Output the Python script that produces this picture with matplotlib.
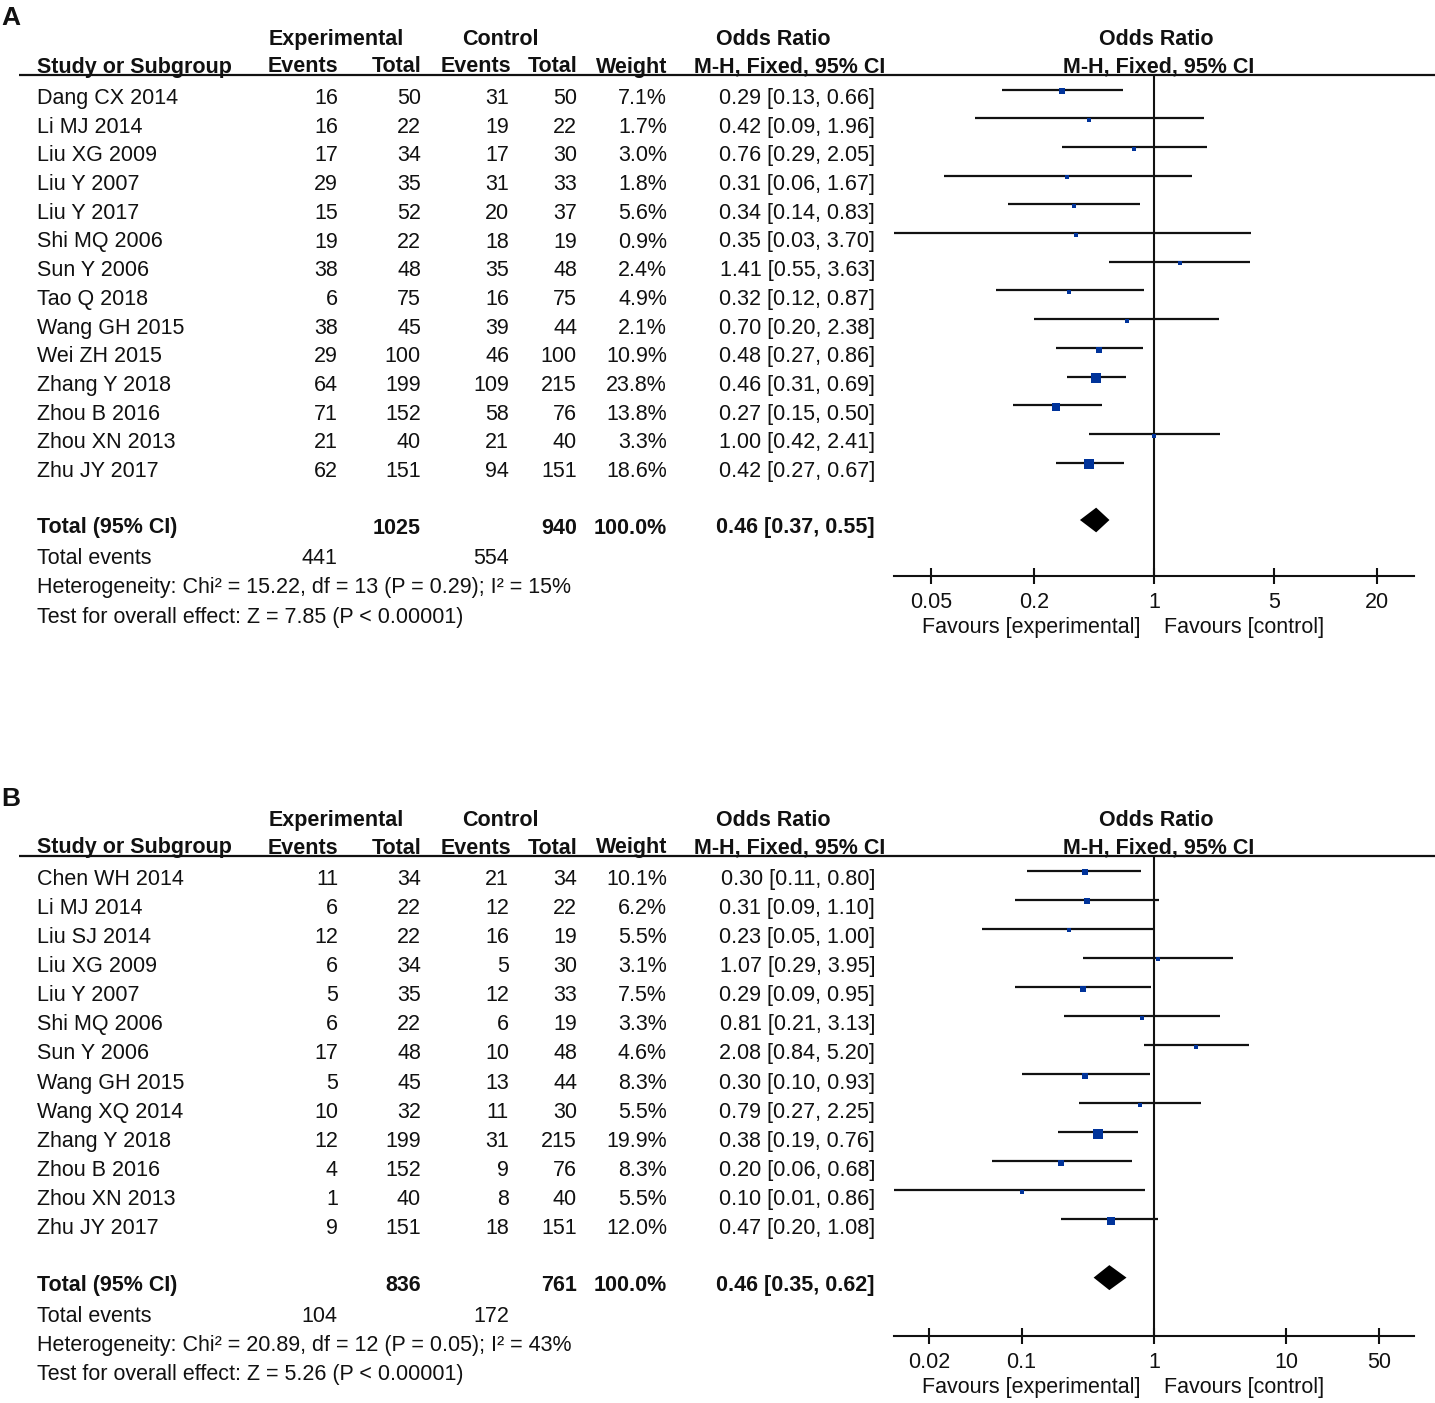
import numpy as np
import matplotlib
matplotlib.use('Agg')
import matplotlib.pyplot as plt

plt.rcParams['font.family'] = ['Liberation Sans', 'DejaVu Sans']
plt.rcParams['font.size'] = 15.5

# ---- panel A data ----
studies_a = ["Dang CX 2014", "Li MJ 2014", "Liu XG 2009", "Liu Y 2007", "Liu Y 2017",
             "Shi MQ 2006", "Sun Y 2006", "Tao Q 2018", "Wang GH 2015", "Wei ZH 2015",
             "Zhang Y 2018", "Zhou B 2016", "Zhou XN 2013", "Zhu JY 2017"]
exp_events_a = [16, 16, 17, 29, 15, 19, 38, 6, 38, 29, 64, 71, 21, 62]
exp_total_a = [50, 22, 34, 35, 52, 22, 48, 75, 45, 100, 199, 152, 40, 151]
ctl_events_a = [31, 19, 17, 31, 20, 18, 35, 16, 39, 46, 109, 58, 21, 94]
ctl_total_a = [50, 22, 30, 33, 37, 19, 48, 75, 44, 100, 215, 76, 40, 151]
weight_a = [7.1, 1.7, 3.0, 1.8, 5.6, 0.9, 2.4, 4.9, 2.1, 10.9, 23.8, 13.8, 3.3, 18.6]
or_a = [0.29, 0.42, 0.76, 0.31, 0.34, 0.35, 1.41, 0.32, 0.70, 0.48, 0.46, 0.27, 1.00, 0.42]
lo_a = [0.13, 0.09, 0.29, 0.06, 0.14, 0.03, 0.55, 0.12, 0.20, 0.27, 0.31, 0.15, 0.42, 0.27]
hi_a = [0.66, 1.96, 2.05, 1.67, 0.83, 3.70, 3.63, 0.87, 2.38, 0.86, 0.69, 0.50, 2.41, 0.67]
totals_a = [1025, 940]
tot_events_a = [441, 554]
pooled_a = [0.46, 0.37, 0.55]
het_a = "Heterogeneity: Chi² = 15.22, df = 13 (P = 0.29); I² = 15%"
test_a = "Test for overall effect: Z = 7.85 (P < 0.00001)"
ticks_a = [0.05, 0.2, 1, 5, 20]
tick_labels_a = ["0.05", "0.2", "1", "5", "20"]

# ---- panel B data ----
studies_b = ["Chen WH 2014", "Li MJ 2014", "Liu SJ 2014", "Liu XG 2009", "Liu Y 2007",
             "Shi MQ 2006", "Sun Y 2006", "Wang GH 2015", "Wang XQ 2014", "Zhang Y 2018",
             "Zhou B 2016", "Zhou XN 2013", "Zhu JY 2017"]
exp_events_b = [11, 6, 12, 6, 5, 6, 17, 5, 10, 12, 4, 1, 9]
exp_total_b = [34, 22, 22, 34, 35, 22, 48, 45, 32, 199, 152, 40, 151]
ctl_events_b = [21, 12, 16, 5, 12, 6, 10, 13, 11, 31, 9, 8, 18]
ctl_total_b = [34, 22, 19, 30, 33, 19, 48, 44, 30, 215, 76, 40, 151]
weight_b = [10.1, 6.2, 5.5, 3.1, 7.5, 3.3, 4.6, 8.3, 5.5, 19.9, 8.3, 5.5, 12.0]
or_b = [0.30, 0.31, 0.23, 1.07, 0.29, 0.81, 2.08, 0.30, 0.79, 0.38, 0.20, 0.10, 0.47]
lo_b = [0.11, 0.09, 0.05, 0.29, 0.09, 0.21, 0.84, 0.10, 0.27, 0.19, 0.06, 0.01, 0.20]
hi_b = [0.80, 1.10, 1.00, 3.95, 0.95, 3.13, 5.20, 0.93, 2.25, 0.76, 0.68, 0.86, 1.08]
totals_b = [836, 761]
tot_events_b = [104, 172]
pooled_b = [0.46, 0.35, 0.62]
het_b = "Heterogeneity: Chi² = 20.89, df = 12 (P = 0.05); I² = 43%"
test_b = "Test for overall effect: Z = 5.26 (P < 0.00001)"
ticks_b = [0.02, 0.1, 1, 10, 50]
tick_labels_b = ["0.02", "0.1", "1", "10", "50"]

W, H = 1435, 1403
TXT = '#111111'
BOX = '#00339A'

fig = plt.figure(figsize=(W / 100, H / 100), dpi=100)
fig.patch.set_facecolor('white')
ax_t = fig.add_axes([0, 0, 1, 1])
ax_t.set_xlim(0, W)
ax_t.set_ylim(H, 0)
ax_t.axis('off')

# column right edges (pixels)
col_x = [338, 421, 509, 577, 667, 875]


def txt(x, y, s, ha='left', bold=False, **kw):
    ax_t.text(x, y, s, ha=ha, va='baseline', color=TXT,
              fontweight='bold' if bold else 'normal', **kw)


def draw_panel(letter, top, step, axis_y, span,
               studies, ee, et, ce, ct, wt, orr, lo, hi,
               totals, tot_events, pooled, het, test, ticks, tick_labels):
    n = len(studies)
    row0 = top + 29          # baseline of first study row
    y_total = row0 + (n + 1) * step - 1 + 0.5 * (step - 28.7) * 0
    # panel letter and headers
    txt(1, top - 50, letter, bold=True, fontsize=19)
    h1 = top - 30
    h2 = top - 2.5
    txt(336, h1, "Experimental", 'center', True)
    txt(500, h1, "Control", 'center', True)
    txt(773, h1, "Odds Ratio", 'center', True)
    txt(1156, h1, "Odds Ratio", 'center', True)
    txt(37, h2, "Study or Subgroup", bold=True)
    for x, s in zip([338, 422, 511, 577, 667, 885],
                    ["Events", "Total", "Events", "Total", "Weight", "M-H, Fixed, 95% CI"]):
        txt(x, h2, s, 'right', True)
    txt(1159, h2, "M-H, Fixed, 95% CI", 'center', True)
    ax_t.plot([19, W], [top, top], color=TXT, lw=1.6, solid_capstyle='butt')

    # study rows
    for i in range(n):
        y = row0 + i * step
        txt(37, y, studies[i])
        vals = [str(ee[i]), str(et[i]), str(ce[i]), str(ct[i]), "%.1f%%" % wt[i],
                "%.2f [%.2f, %.2f]" % (orr[i], lo[i], hi[i])]
        for x, s in zip(col_x, vals):
            txt(x, y, s, 'right')

    # totals
    txt(37, y_total, "Total (95% CI)", bold=True)
    for x, s in zip([421, 577, 667, 875],
                    [str(totals[0]), str(totals[1]), "100.0%",
                     "%.2f [%.2f, %.2f]" % tuple(pooled)]):
        txt(x, y_total, s, 'right', True)
    txt(37, y_total + 31, "Total events")
    txt(337, y_total + 31, str(tot_events[0]), 'right')
    txt(509, y_total + 31, str(tot_events[1]), 'right')
    txt(37, y_total + 60, het)
    txt(37, y_total + 89, test)

    # forest axes
    x0, x1 = 894, 1414
    ax = fig.add_axes([x0 / W, 1 - axis_y / H, (x1 - x0) / W, (axis_y - top) / H])
    ax.set_facecolor('none')
    ax.set_xscale('log')
    ax.set_xlim(10 ** -span, 10 ** span)
    line0 = row0 - 14.5
    ax.set_ylim((axis_y - line0) / step, -(line0 - top) / step)
    for s in ['left', 'right', 'top']:
        ax.spines[s].set_visible(False)
    ax.spines['bottom'].set_linewidth(1.5)
    ax.spines['bottom'].set_color(TXT)
    ax.set_yticks([])
    ax.set_xticks(ticks)
    ax.set_xticklabels(tick_labels)
    ax.minorticks_off()
    ax.tick_params(axis='x', direction='inout', length=11, width=1.5, pad=6,
                   labelsize=15.5, colors=TXT)
    ax.axvline(1, color=TXT, lw=1.5)
    for i in range(n):
        ax.plot([lo[i], hi[i]], [i, i], color=TXT, lw=1.6, solid_capstyle='butt')
        side = max(3.6, 2.2 * np.sqrt(wt[i]) - 0.4)
        ax.plot(orr[i], i + 0.06, marker='s', color=BOX, ms=side * 0.72, mew=0)
    yd = n + 1
    hh = 0.43
    ax.fill([pooled[1], pooled[0], pooled[2], pooled[0]],
            [yd, yd - hh, yd, yd + hh], color='black', lw=0)
    txt(1141, axis_y + 57, "Favours [experimental]", 'right')
    txt(1164, axis_y + 57, "Favours [control]")


draw_panel("A", 75, 28.7, 576, 1.516,
           studies_a, exp_events_a, exp_total_a, ctl_events_a, ctl_total_a, weight_a,
           or_a, lo_a, hi_a, totals_a, tot_events_a, pooled_a, het_a, test_a,
           ticks_a, tick_labels_a)
draw_panel("B", 856, 29.08, 1336, 1.963,
           studies_b, exp_events_b, exp_total_b, ctl_events_b, ctl_total_b, weight_b,
           or_b, lo_b, hi_b, totals_b, tot_events_b, pooled_b, het_b, test_b,
           ticks_b, tick_labels_b)

fig.savefig('out.png', dpi=100, facecolor='white')
